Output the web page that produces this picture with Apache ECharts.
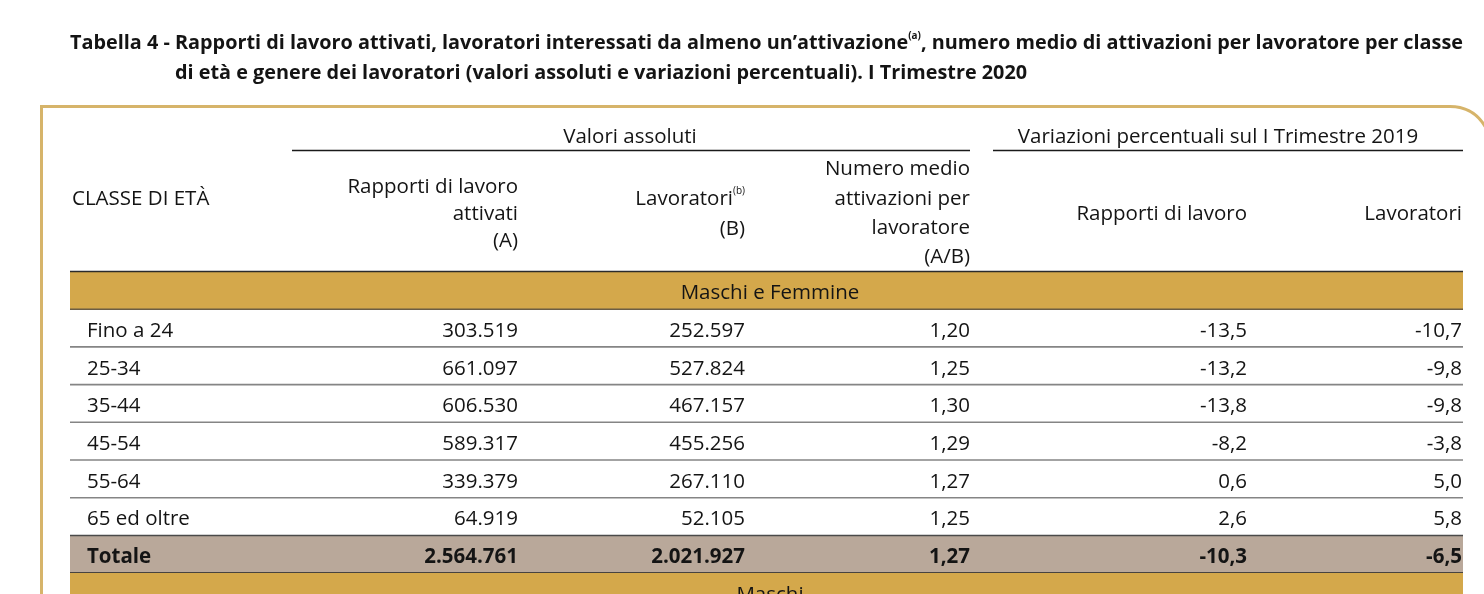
<!DOCTYPE html>
<html><head><meta charset="utf-8">
<script src="https://cdn.jsdelivr.net/npm/echarts@6/dist/echarts.min.js"></script>
<style>html,body{margin:0;padding:0;background:#fff}#c{width:1484px;height:594px}</style>
</head><body><div id="c"></div>
<script>
// ---------- DATA ----------
const titleLine1 = ['Tabella 4 - Rapporti di lavoro attivati, lavoratori interessati da almeno un\u2019attivazione', '(a)', ', numero medio di attivazioni per lavoratore per classe'];
const titleLine2 = 'di et\u00e0 e genere dei lavoratori (valori assoluti e variazioni percentuali). I Trimestre 2020';
const groupHeaders = ['Valori assoluti', 'Variazioni percentuali sul I Trimestre 2019'];
const firstColHeader = 'CLASSE DI ET\u00c0';
const colHeaders = [
  ['Rapporti di lavoro', 'attivati', '(A)'],
  ['Lavoratori', '(B)'],
  ['Numero medio', 'attivazioni per', 'lavoratore', '(A/B)'],
  ['Rapporti di lavoro'],
  ['Lavoratori']
];
const colHeaderNote = '(b)';
const sectionLabels = ['Maschi e Femmine', 'Maschi'];
const ageClasses = ['Fino a 24', '25-34', '35-44', '45-54', '55-64', '65 ed oltre'];
const totalLabel = 'Totale';
const rapportiAttivati = [303519, 661097, 606530, 589317, 339379, 64919];
const lavoratori = [252597, 527824, 467157, 455256, 267110, 52105];
const numeroMedio = [1.20, 1.25, 1.30, 1.29, 1.27, 1.25];
const varRapporti = [-13.5, -13.2, -13.8, -8.2, 0.6, 2.6];
const varLavoratori = [-10.7, -9.8, -9.8, -3.8, 5.0, 5.8];
const totals = [2564761, 2021927, 1.27, -10.3, -6.5];

// ---------- helpers ----------
function fmtInt(v) { return String(v).replace(/\B(?=(\d{3})+(?!\d))/g, '.'); }
function fmtDec(v, d) { return v.toFixed(d).replace('.', ','); }

const rows = [];
rows.push({kind: 'band', label: sectionLabels[0]});
ageClasses.forEach(function (a, i) {
  rows.push({kind: 'data', label: a, cells: [fmtInt(rapportiAttivati[i]), fmtInt(lavoratori[i]), fmtDec(numeroMedio[i], 2), fmtDec(varRapporti[i], 1), fmtDec(varLavoratori[i], 1)]});
});
rows.push({kind: 'total', label: totalLabel, cells: [fmtInt(totals[0]), fmtInt(totals[1]), fmtDec(totals[2], 2), fmtDec(totals[3], 1), fmtDec(totals[4], 1)]});
rows.push({kind: 'band', label: sectionLabels[1]});

// ---------- layout / style ----------
const FONT = '"Open Sans", sans-serif';
const FS = 20.5;
const TXT = '#141414';
const GOLD = '#D4A84B';
const TOTBG = '#B9A89A';
const BORDER = '#D6B46A';
const TABLE_L = 70, TABLE_R = 1463;
const LABEL_X = 87;
const COL_R = [518, 745, 970, 1247, 1462];
const ROW_H = 37.7;
const VISIBLE_ROWS = 8; // the last band row continues past the bottom edge
const DY = 3;   // optical text offset inside rows
const HDY = 2;  // optical text offset in header

const ctx = document.createElement('canvas').getContext('2d');
ctx.font = 'bold 20px "Open Sans"';
let tw = ctx.measureText(titleLine1[0] + titleLine1[2]).width;
ctx.font = 'bold 10px "Open Sans"';
tw += ctx.measureText(titleLine1[1]).width;
const titleScale = (TABLE_R - TABLE_L) / tw;

function renderRow(params, api) {
  const i = params.dataIndex;
  const row = rows[i];
  const yc = api.coord([0, i])[1];
  const h = Math.abs(api.size([0, 1])[1]);
  const x0 = api.coord([TABLE_L, i])[0];
  const x1 = api.coord([TABLE_R, i])[0];
  const top = yc - h / 2, bot = yc + h / 2;
  const ch = [];
  if (row.kind === 'band') {
    ch.push({type: 'rect', shape: {x: x0, y: top, width: x1 - x0, height: h}, style: {fill: GOLD}});
    if (i === 0) {
      ch.push({type: 'line', shape: {x1: x0, y1: top, x2: x1, y2: top}, style: {stroke: '#2b2b2b', lineWidth: 1.5}});
      ch.push({type: 'line', shape: {x1: x0, y1: bot, x2: x1, y2: bot}, style: {stroke: '#6b5d45', lineWidth: 1.5}});
    }
    ch.push({type: 'text', style: {text: row.label, x: api.coord([770, i])[0], y: yc + DY, align: 'center', verticalAlign: 'middle', fontFamily: FONT, fontSize: FS, fill: TXT}});
  } else {
    const bold = row.kind === 'total';
    if (bold) {
      ch.push({type: 'rect', shape: {x: x0, y: top, width: x1 - x0, height: h}, style: {fill: TOTBG}});
      ch.push({type: 'line', shape: {x1: x0, y1: top, x2: x1, y2: top}, style: {stroke: '#4a4a4a', lineWidth: 1.5}});
      ch.push({type: 'line', shape: {x1: x0, y1: bot, x2: x1, y2: bot}, style: {stroke: '#222', lineWidth: 1.5}});
    } else if (rows[i + 1].kind === 'data') {
      ch.push({type: 'line', shape: {x1: x0, y1: bot, x2: x1, y2: bot}, style: {stroke: '#858585', lineWidth: 1.6}});
    }
    ch.push({type: 'text', style: {text: row.label, x: api.coord([LABEL_X, i])[0], y: yc + DY, align: 'left', verticalAlign: 'middle', fontFamily: FONT, fontSize: FS, fontWeight: bold ? 'bold' : 'normal', fill: TXT}});
    row.cells.forEach(function (c, k) {
      ch.push({type: 'text', style: {text: c, x: api.coord([COL_R[k], i])[0], y: yc + DY, align: 'right', verticalAlign: 'middle', fontFamily: FONT, fontSize: FS, fontWeight: bold ? 'bold' : 'normal', fill: TXT}});
    });
  }
  return {type: 'group', children: ch};
}

// header graphics
const g = [];
g.push({type: 'polyline', shape: {points: [[41.5, 600], [41.5, 106.5], [1450, 106.5]]}, style: {stroke: BORDER, lineWidth: 3, fill: null}});
g.push({type: 'bezierCurve', shape: {x1: 1450, y1: 106.5, cpx1: 1474, cpy1: 106.5, x2: 1486, y2: 128}, style: {stroke: BORDER, lineWidth: 3, fill: null}});
g.push({type: 'text', x: TABLE_L, y: 43, scaleX: titleScale, style: {
  text: '{m|' + titleLine1[0] + '}{s|' + titleLine1[1] + '}{m|' + titleLine1[2] + '}',
  x: 0, y: 0, align: 'left', verticalAlign: 'middle',
  rich: {m: {fontFamily: FONT, fontWeight: 'bold', fontSize: 20, fill: TXT, lineHeight: 24},
         s: {fontFamily: FONT, fontWeight: 'bold', fontSize: 10, fill: TXT, verticalAlign: 'top', lineHeight: 24}}
}});
g.push({type: 'text', x: 175, y: 73, scaleX: titleScale, style: {text: titleLine2, x: 0, y: 0, align: 'left', verticalAlign: 'middle', fontFamily: FONT, fontWeight: 'bold', fontSize: 20, fill: TXT}});
g.push({type: 'text', style: {text: groupHeaders[0], x: 630, y: 135 + HDY, align: 'center', verticalAlign: 'middle', fontFamily: FONT, fontSize: FS, fill: TXT}});
g.push({type: 'text', style: {text: groupHeaders[1], x: 1218, y: 135 + HDY, align: 'center', verticalAlign: 'middle', fontFamily: FONT, fontSize: FS, fill: TXT}});
g.push({type: 'line', shape: {x1: 292, y1: 150.5, x2: 970, y2: 150.5}, style: {stroke: '#1a1a1a', lineWidth: 1.5}});
g.push({type: 'line', shape: {x1: 993, y1: 150.5, x2: TABLE_R, y2: 150.5}, style: {stroke: '#1a1a1a', lineWidth: 1.5}});
g.push({type: 'text', style: {text: firstColHeader, x: 72, y: 197 + HDY, align: 'left', verticalAlign: 'middle', fontFamily: FONT, fontSize: FS, fill: TXT}});
const hdrY = [[185, 212, 239], [197, 227], [167, 197, 226, 255], [212], [212]];
colHeaders.forEach(function (lines, k) {
  lines.forEach(function (t, j) {
    const txt = (k === 1 && j === 0) ? '{m|' + t + '}{s|' + colHeaderNote + '}' : '{m|' + t + '}';
    g.push({type: 'text', style: {text: txt, x: COL_R[k], y: hdrY[k][j] + HDY, align: 'right', verticalAlign: 'middle',
      rich: {m: {fontFamily: FONT, fontSize: FS, fill: TXT, lineHeight: 26}, s: {fontFamily: FONT, fontSize: 10, fill: TXT, verticalAlign: 'top', lineHeight: 26}}}});
  });
});

const chart = echarts.init(document.getElementById('c'), null, {renderer: 'canvas'});
chart.setOption({
  animation: false,
  backgroundColor: '#fff',
  grid: {left: 0, width: 1484, top: 271.5, height: ROW_H * VISIBLE_ROWS},
  xAxis: {type: 'value', min: 0, max: 1484, show: false},
  yAxis: {type: 'value', min: -0.5, max: VISIBLE_ROWS - 0.5, inverse: true, show: false},
  series: [{
    type: 'custom',
    renderItem: renderRow,
    clip: false,
    data: rows.map(function (r, i) { return [0, i]; })
  }],
  graphic: g
});
</script></body></html>
